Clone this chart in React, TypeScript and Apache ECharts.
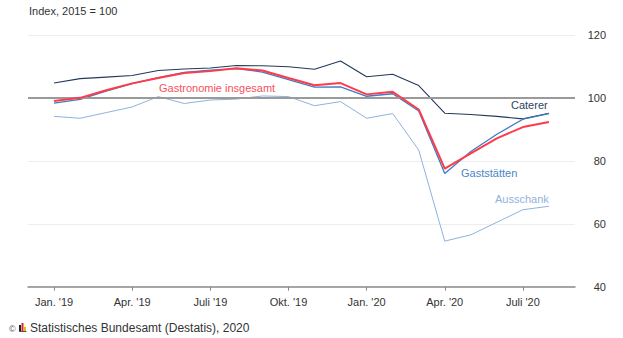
import { useEffect, useRef } from 'react';
import * as echarts from 'echarts';

// Monthly index values, Jan 2019 – Aug 2020 (2015 = 100)
const months = [
  "Jan. '19", "Feb. '19", "März '19", "Apr. '19", "Mai '19", "Juni '19", "Juli '19", "Aug. '19",
  "Sep. '19", "Okt. '19", "Nov. '19", "Dez. '19", "Jan. '20", "Feb. '20", "März '20", "Apr. '20",
  "Mai '20", "Juni '20", "Juli '20", "Aug. '20",
];
const caterer = [104.8, 106.2, 106.7, 107.2, 108.8, 109.3, 109.6, 110.4, 110.3, 110.0, 109.2, 111.8, 106.8, 107.6, 104.0, 95.2, 94.8, 94.2, 93.4, 95.2];
const gastronomie = [99.1, 100.1, 102.5, 104.7, 106.4, 108.0, 108.6, 109.5, 108.8, 106.4, 104.1, 104.8, 101.2, 102.0, 96.4, 77.6, 82.4, 87.2, 90.8, 92.4];
const gaststaetten = [98.4, 99.6, 102.2, 104.6, 106.5, 108.2, 108.9, 109.4, 108.3, 105.9, 103.5, 103.6, 100.6, 101.4, 95.9, 76.0, 83.0, 88.5, 93.3, 95.1];
const ausschank = [94.2, 93.6, 95.4, 97.2, 100.5, 98.3, 99.4, 99.7, 100.7, 100.5, 97.6, 98.9, 93.6, 95.1, 83.5, 54.5, 56.5, 60.5, 64.5, 65.6];
const yTicks = [40, 60, 80, 100, 120];

const FONT = "'Liberation Sans', Arial, sans-serif";
const C_CATERER = '#233a58';
const C_GESAMT = '#ff3b4a';
const C_GESAMT_LABEL = '#f5525c';
const C_GASTST = '#3d7bc3';
const C_AUSSCH = '#8db3de';

export default function App() {
  const ref = useRef<HTMLDivElement>(null);

  useEffect(() => {
    if (!ref.current) return;
    const chart = echarts.init(ref.current, null, { renderer: 'svg' });

    // One empty slot on each side keeps the lines off the axis ends
    const cats = ['', ...months, ''];
    const pad = (a: number[]) => [null, ...a, null];
    const isQuarter = (i: number) => i >= 1 && i <= months.length && (i - 1) % 3 === 0;

    const lineSeries = (name: string, data: number[], color: string, width: number, z: number) => ({
      name,
      type: 'line',
      data: pad(data),
      showSymbol: false,
      symbol: 'none',
      z,
      lineStyle: { color, width },
      emphasis: { disabled: true },
    });

    chart.setOption({
      animation: false,
      textStyle: { fontFamily: FONT },
      grid: { left: 28, right: 48, top: 35.3, bottom: 51.3, containLabel: false },
      xAxis: {
        type: 'category',
        data: cats,
        boundaryGap: false,
        axisLine: { show: true, lineStyle: { color: '#8a8a8a', width: 1.5 } },
        axisTick: {
          show: true,
          interval: (i: number) => isQuarter(i),
          length: 4,
          lineStyle: { color: '#8a8a8a', width: 1 },
        },
        axisLabel: {
          interval: (i: number) => isQuarter(i),
          color: '#333',
          fontSize: 11,
          fontFamily: FONT,
          margin: 10,
        },
        splitLine: { show: false },
      },
      yAxis: {
        type: 'value',
        position: 'right',
        min: yTicks[0],
        max: yTicks[yTicks.length - 1],
        interval: 20,
        axisLine: { show: false },
        axisTick: { show: false },
        axisLabel: {
          color: '#333',
          fontSize: 11,
          fontFamily: FONT,
          align: 'right',
          margin: 31,
        },
        splitLine: { show: true, lineStyle: { color: '#eeeeee', width: 1 } },
      },
      series: [
        {
          ...lineSeries('Ausschank', ausschank, C_AUSSCH, 1, 2),
          markLine: {
            silent: true,
            symbol: 'none',
            label: { show: false },
            lineStyle: { color: '#9a9a9a', width: 2, type: 'solid' },
            data: [{ yAxis: 100 }],
          },
        },
        lineSeries('Caterer', caterer, C_CATERER, 1.1, 3),
        lineSeries('Gaststätten', gaststaetten, C_GASTST, 1.3, 4),
        lineSeries('Gastronomie insgesamt', gastronomie, C_GESAMT, 2, 5),
      ],
      graphic: [
        {
          type: 'text', left: 29, top: 5,
          style: { text: 'Index, 2015 = 100', fill: '#333', font: `11px ${FONT}` },
        },
        {
          type: 'text', left: 159, top: 82,
          style: { text: 'Gastronomie insgesamt', fill: C_GESAMT_LABEL, font: `11px ${FONT}` },
        },
        {
          type: 'text', left: 511, top: 99,
          style: { text: 'Caterer', fill: '#2d4363', font: `11px ${FONT}` },
        },
        {
          type: 'text', left: 461, top: 167,
          style: { text: 'Gaststätten', fill: '#4a86c8', font: `11px ${FONT}` },
        },
        {
          type: 'text', left: 495, top: 193,
          style: { text: 'Ausschank', fill: '#8fb3dc', font: `11px ${FONT}` },
        },
        // footer: copyright sign, small bar logo and source line
        {
          type: 'text', left: 9, top: 324,
          style: { text: '©', fill: '#555', font: `9px ${FONT}` },
        },
        {
          type: 'group', left: 19, top: 323,
          children: [
            { type: 'rect', shape: { x: 0, y: 3, width: 2, height: 6 }, style: { fill: '#222' } },
            { type: 'rect', shape: { x: 2.5, y: 1, width: 2, height: 8 }, style: { fill: '#d8262e' } },
            { type: 'rect', shape: { x: 5, y: 5, width: 2, height: 4 }, style: { fill: '#f2b600' } },
            { type: 'rect', shape: { x: 0, y: 9, width: 7.5, height: 1 }, style: { fill: '#555' } },
          ],
        },
        {
          type: 'text', left: 30, top: 322,
          style: { text: 'Statistisches Bundesamt (Destatis), 2020', fill: '#333', font: `12px ${FONT}` },
        },
      ],
    });

    return () => chart.dispose();
  }, []);

  return (
    <div
      ref={ref}
      style={{ position: 'fixed', left: 0, top: 0, width: 623, height: 338, background: '#fff' }}
    />
  );
}
